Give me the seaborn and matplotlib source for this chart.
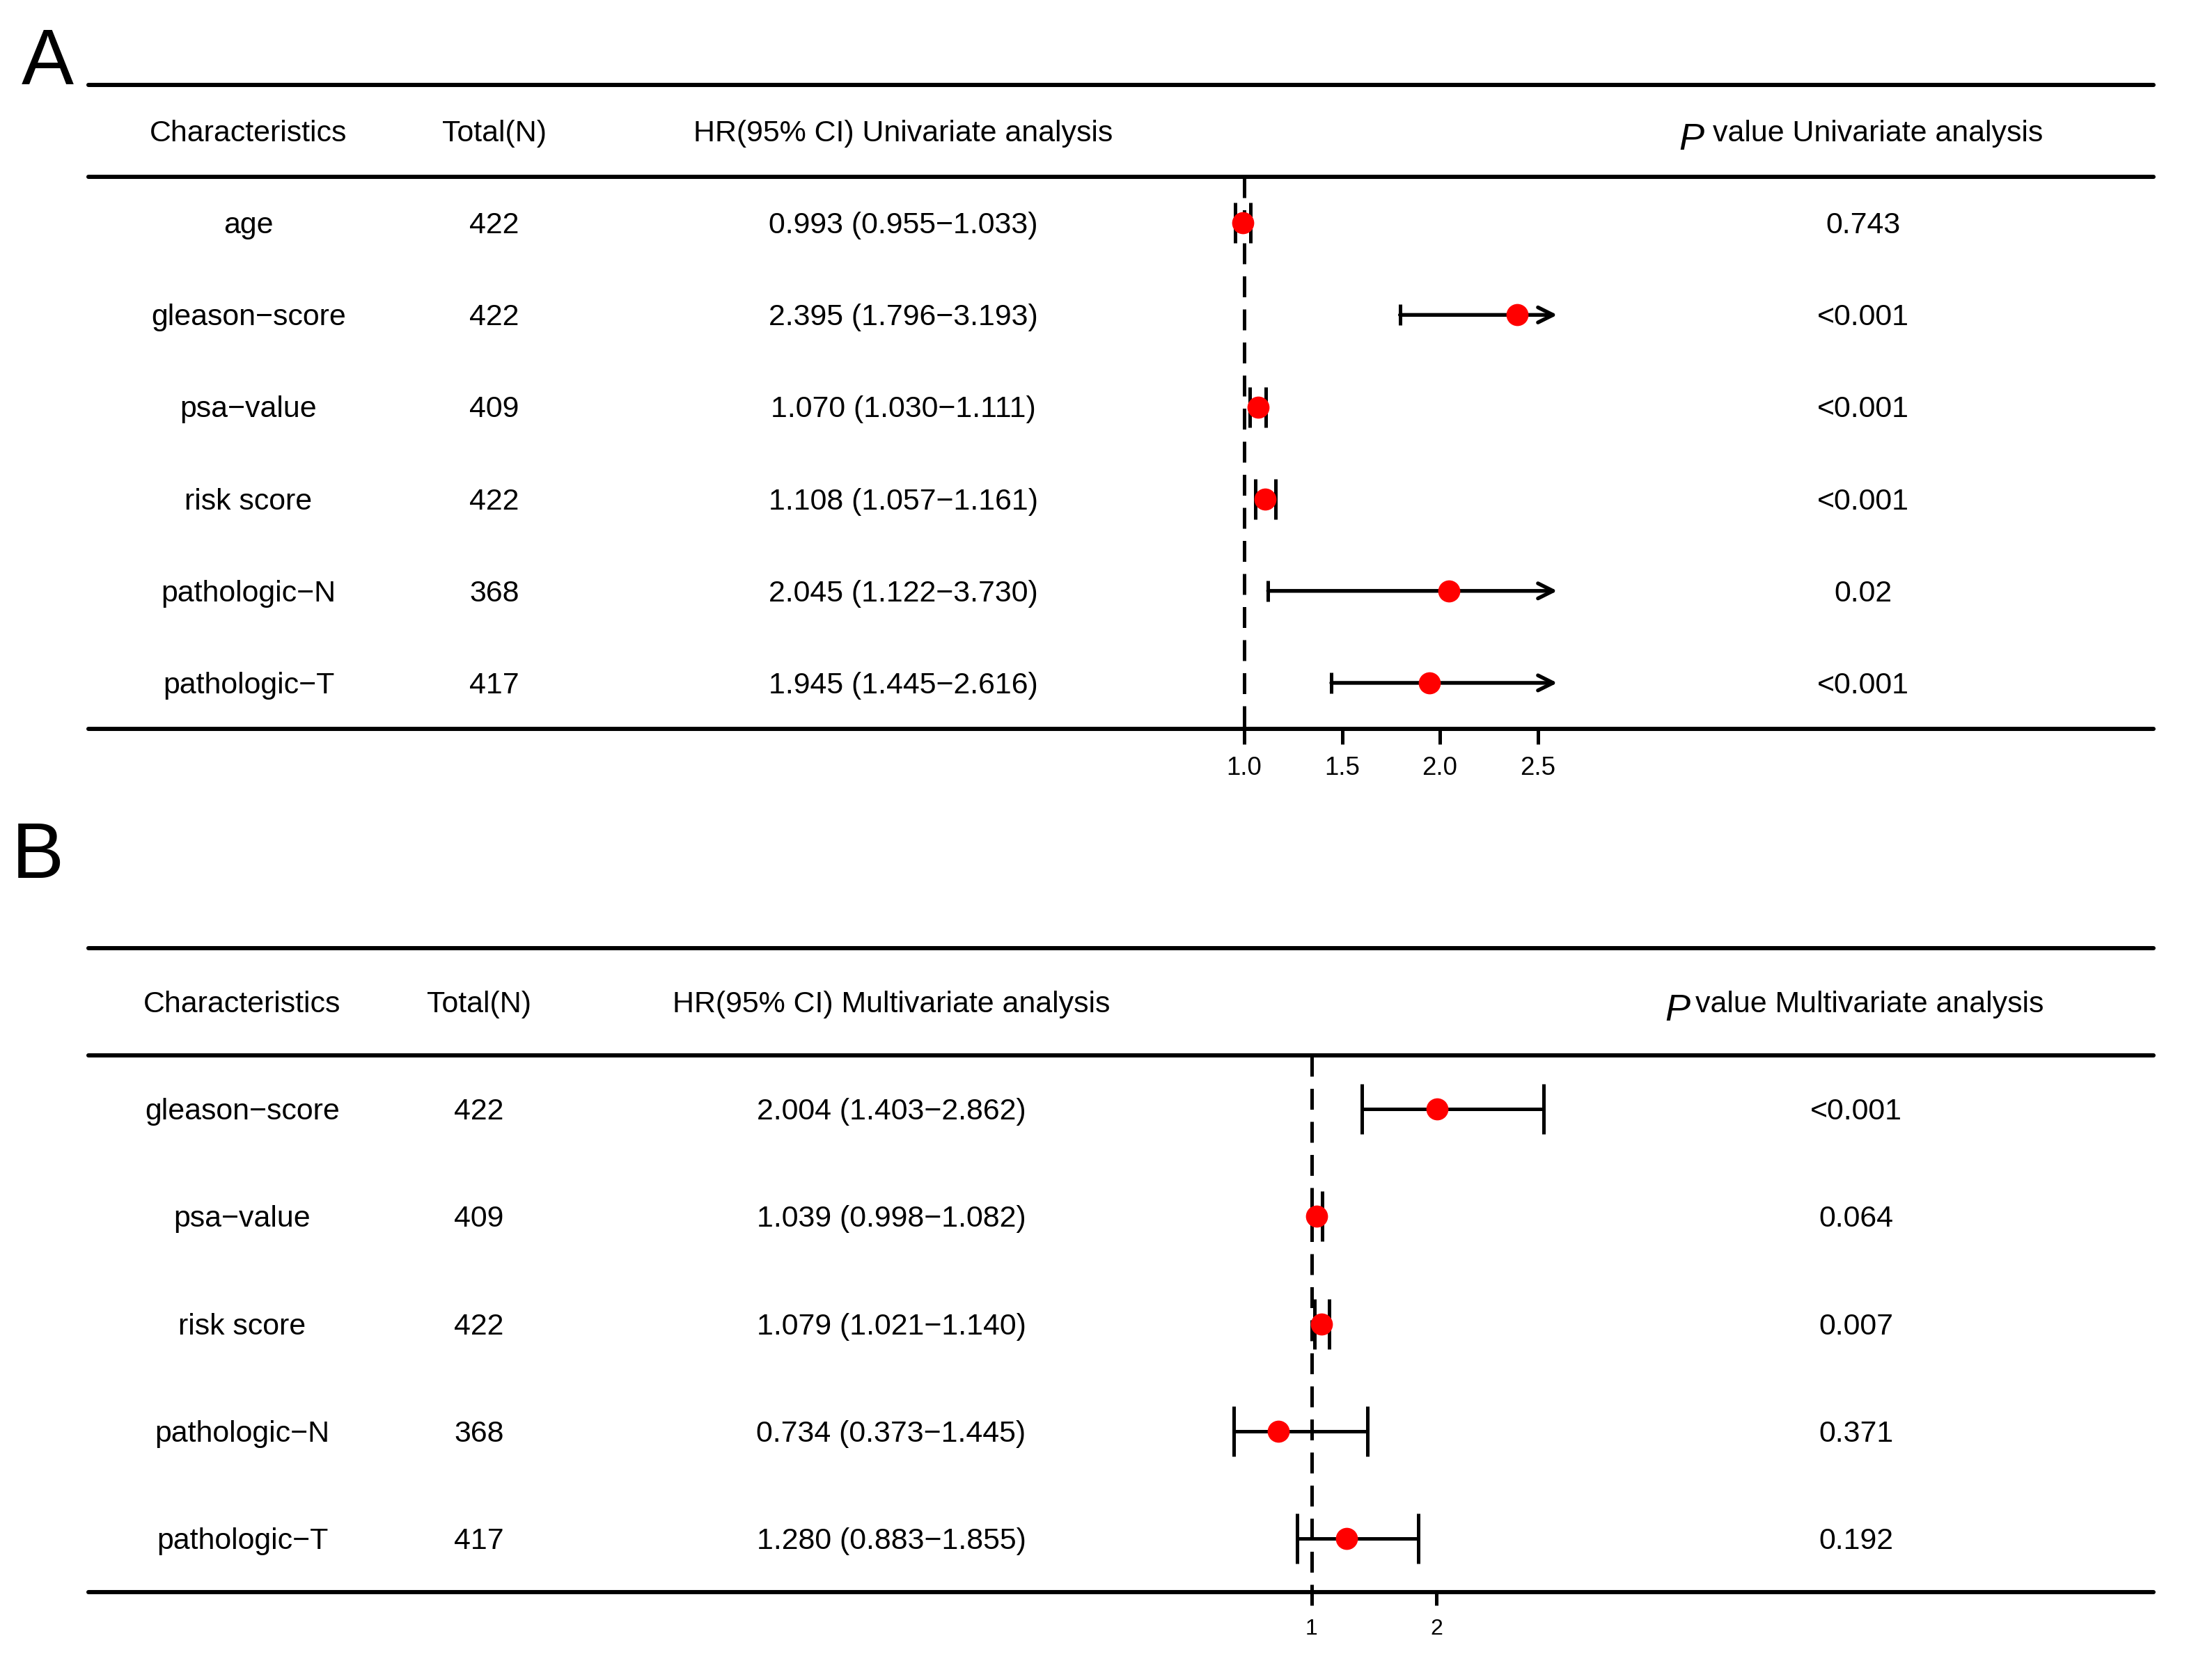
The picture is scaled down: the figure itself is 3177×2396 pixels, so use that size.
import numpy as np
import pandas as pd
import matplotlib
matplotlib.use('Agg')
from matplotlib import pyplot as plt
from matplotlib import transforms
import seaborn as sns

sns.set_theme(style='white')
plt.rcParams['font.family'] = ['Liberation Sans', 'DejaVu Sans']
plt.rcParams['text.color'] = 'black'
plt.rcParams['xtick.color'] = 'black'
plt.rcParams['xtick.labelcolor'] = 'black'

# --- panel A: univariate cox ---
chars_a = ['age', 'gleason−score', 'psa−value', 'risk score', 'pathologic−N', 'pathologic−T']
n_a = [422, 422, 409, 422, 368, 417]
hr_a = [0.993, 2.395, 1.070, 1.108, 2.045, 1.945]
lo_a = [0.955, 1.796, 1.030, 1.057, 1.122, 1.445]
hi_a = [1.033, 3.193, 1.111, 1.161, 3.730, 2.616]
p_a = ['0.743', '<0.001', '<0.001', '<0.001', '0.02', '<0.001']
ticks_a = [1.0, 1.5, 2.0, 2.5]
ticklabels_a = ['1.0', '1.5', '2.0', '2.5']

# --- panel B: multivariate cox ---
chars_b = ['gleason−score', 'psa−value', 'risk score', 'pathologic−N', 'pathologic−T']
n_b = [422, 409, 422, 368, 417]
hr_b = [2.004, 1.039, 1.079, 0.734, 1.280]
lo_b = [1.403, 0.998, 1.021, 0.373, 0.883]
hi_b = [2.862, 1.082, 1.140, 1.445, 1.855]
p_b = ['<0.001', '0.064', '0.007', '0.371', '0.192']
ticks_b = [1, 2]
ticklabels_b = ['1', '2']

W, H = 3177, 2396
fig = plt.figure(figsize=(W / 300, H / 300), dpi=300)
fig.patch.set_facecolor('white')

FS = 10.3


def px_box(x0, y0, x1, y1):
    # pixel box (top-left origin) -> figure rect
    return [x0 / W, 1 - y1 / H, (x1 - x0) / W, (y1 - y0) / H]


def draw_panel(cfg, chars, n, hr, lo, hi, pvals, ticks, ticklabels):
    nrow = len(chars)
    rows = np.arange(nrow)
    dy = cfg['text_dy']

    # table axes, full width
    ax = fig.add_axes(px_box(127, cfg['top'], 3093, cfg['bottom']))
    ax.set_xlim(0, 1)
    ax.set_ylim(nrow - 0.5, -1.5)
    ax.axis('off')
    for y in [-1.5, -0.5, nrow - 0.5]:
        ax.axhline(y, color='black', lw=1.45, clip_on=False)

    tr = transforms.blended_transform_factory(fig.transFigure, ax.transData)
    cx = cfg['cols']

    # headers
    ax.text(cx[0] / W, -1 + dy, 'Characteristics', transform=tr, ha='center', va='center', size=FS)
    ax.text(cx[1] / W, -1 + dy, 'Total(N)', transform=tr, ha='center', va='center', size=FS)
    ax.text(cx[2] / W, -1 + dy, cfg['hr_head'], transform=tr, ha='center', va='center', size=FS)
    ax.text(cfg['p_x'] / W, -1 + dy + cfg['p_dy'], 'P', transform=tr, ha='left', va='center',
            size=13, fontstyle='italic')
    ax.text(cfg['rest_x'] / W, -1 + dy, cfg['p_head'], transform=tr, ha='left', va='center', size=FS)

    # body
    for i in rows:
        ax.text(cx[0] / W, i + dy, chars[i], transform=tr, ha='center', va='center', size=FS)
        ax.text(cx[1] / W, i + dy, str(n[i]), transform=tr, ha='center', va='center', size=FS)
        ci = f'{hr[i]:.3f} ({lo[i]:.3f}−{hi[i]:.3f})'
        ax.text(cx[2] / W, i + dy, ci, transform=tr, ha='center', va='center', size=FS)
        ax.text(cx[3] / W, i + dy, pvals[i], transform=tr, ha='center', va='center', size=FS)

    # forest axes
    x0 = cfg['one_px'] + (cfg['xlim'][0] - 1) * cfg['unit_px']
    x1 = cfg['one_px'] + (cfg['xlim'][1] - 1) * cfg['unit_px']
    fax = fig.add_axes(px_box(x0, cfg['top'], x1, cfg['bottom']), sharey=ax)
    fax.set_facecolor('none')
    for s in fax.spines.values():
        s.set_visible(False)

    fax.vlines(1, -0.5, nrow - 0.5, colors='black', lw=1.2, linestyles=(0, (6, 3.5)), zorder=1)

    clip = cfg['clip']
    for i in rows:
        if hi[i] > clip:
            fax.annotate('', xy=(clip, i), xytext=(lo[i], i),
                         arrowprops=dict(arrowstyle='->', lw=1.3, color='black',
                                         shrinkA=0, shrinkB=0, mutation_scale=13))
            fax.plot([lo[i]], [i], marker='|', ms=cfg['cap'], mew=1.2, color='black')
        else:
            fax.errorbar(hr[i], i, xerr=[[hr[i] - lo[i]], [hi[i] - hr[i]]], fmt='none',
                         ecolor='black', elinewidth=1.2, capsize=cfg['cap'], capthick=1.2)

    df = pd.DataFrame({'hr': hr, 'row': rows})
    sns.scatterplot(data=df, x='hr', y='row', ax=fax, color='#FF0000', s=58,
                    linewidth=0, zorder=4, legend=False)

    fax.set_xlim(*cfg['xlim'])
    fax.set_ylim(nrow - 0.5, -1.5)
    fax.set_xlabel('')
    fax.set_ylabel('')
    fax.set_xticks(ticks)
    fax.set_xticklabels(ticklabels)
    fax.tick_params(axis='x', bottom=True, direction='out', length=cfg['tick_len'], width=1.2,
                    color='black', labelcolor='black', labelsize=cfg['tick_fs'], pad=cfg['tick_pad'])
    fax.tick_params(axis='y', left=False, labelleft=False)

    fig.text(cfg['letter_xy'][0] / W, 1 - cfg['letter_xy'][1] / H, cfg['letter'],
             size=27, ha='left', va='baseline', color='black')


cfg_a = dict(top=122, bottom=1047, cols=[357, 710, 1297, 2676],
             hr_head='HR(95% CI) Univariate analysis', p_head='value Univariate analysis',
             p_x=2411, rest_x=2460, p_dy=0.07, text_dy=0.03,
             one_px=1787, unit_px=281, xlim=(0.75, 2.8), clip=2.6, cap=7,
             tick_len=5.3, tick_fs=8.8, tick_pad=4, letter='A', letter_xy=(31, 121))

cfg_b = dict(top=1362, bottom=2287, cols=[348, 688, 1280, 2666],
             hr_head='HR(95% CI) Multivariate analysis', p_head='value Multivariate analysis',
             p_x=2391, rest_x=2435, p_dy=0.06, text_dy=0.026,
             one_px=1884, unit_px=179, xlim=(0.3, 3.0), clip=10, cap=8.6,
             tick_len=4.6, tick_fs=7.7, tick_pad=4.5, letter='B', letter_xy=(17, 1261))

draw_panel(cfg_a, chars_a, n_a, hr_a, lo_a, hi_a, p_a, ticks_a, ticklabels_a)
draw_panel(cfg_b, chars_b, n_b, hr_b, lo_b, hi_b, p_b, ticks_b, ticklabels_b)

fig.savefig('out.png', dpi=300, facecolor='white')
